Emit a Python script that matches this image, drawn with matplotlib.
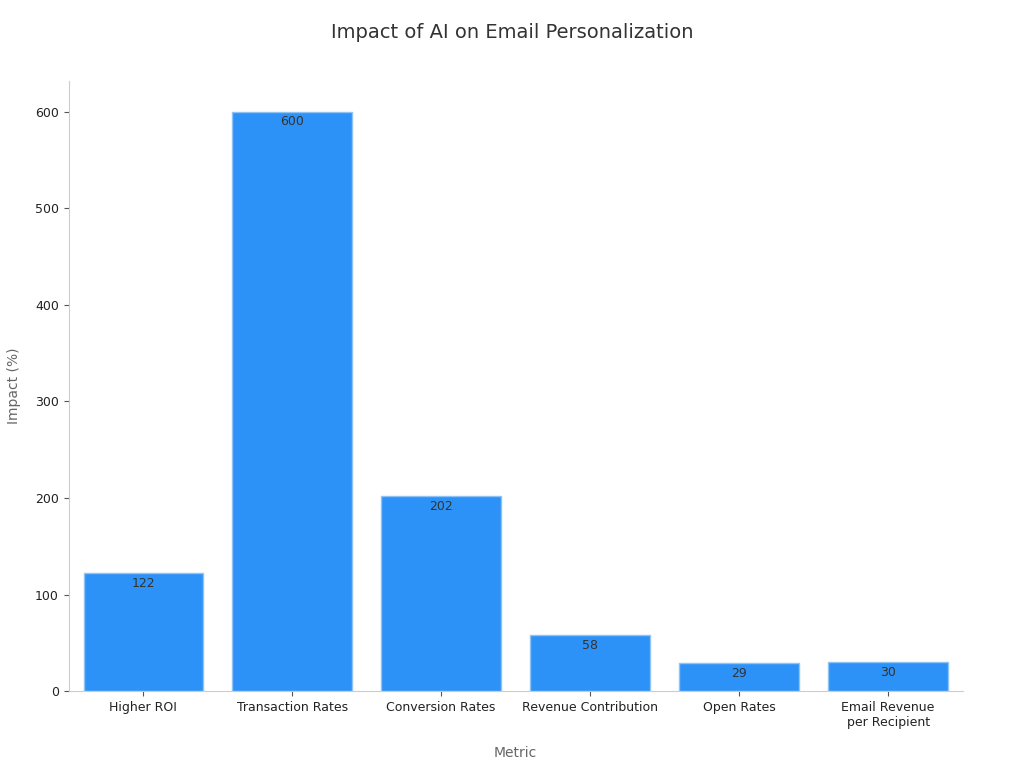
import matplotlib
matplotlib.use("Agg")
import matplotlib.pyplot as plt

categories = ["Higher ROI", "Transaction Rates", "Conversion Rates", "Revenue Contribution", "Open Rates", "Email Revenue\nper Recipient"]
values = [122, 600, 202, 58, 29, 30]

fig, ax = plt.subplots(figsize=(10.24, 7.68), dpi=100)
fig.subplots_adjust(left=0.067, right=0.94, top=0.895, bottom=0.1)
bars = ax.bar(range(len(values)), values, width=0.8, color="#2d92f8", edgecolor="#8fc3f5", linewidth=1)
for i, v in enumerate(values):
    ax.text(i, v - 4, str(v), ha="center", va="top", fontsize=9, color="#333333")
ax.set_xticks(range(len(values)))
ax.tick_params(colors="#555555", labelsize=9)
ax.set_xticklabels(categories, fontsize=9, color="#222222")
for lab in ax.get_yticklabels():
    lab.set_color("#222222")
ax.set_xlim(-0.5, 5.5)
ax.set_ylim(0, 632)
ax.set_yticks([0, 100, 200, 300, 400, 500, 600])
ax.set_yticklabels([str(t) for t in [0, 100, 200, 300, 400, 500, 600]], color="#222222")
ax.spines["top"].set_visible(False)
ax.spines["right"].set_visible(False)
ax.spines["left"].set_color("#cccccc")
ax.spines["bottom"].set_color("#cccccc")
ax.set_xlabel("Metric", fontsize=10, color="#666666", labelpad=12)
ax.set_ylabel("Impact (%)", fontsize=10, color="#666666", labelpad=10)
fig.suptitle("Impact of AI on Email Personalization", fontsize=14, color="#333333", y=0.97)
fig.savefig("out.png")
